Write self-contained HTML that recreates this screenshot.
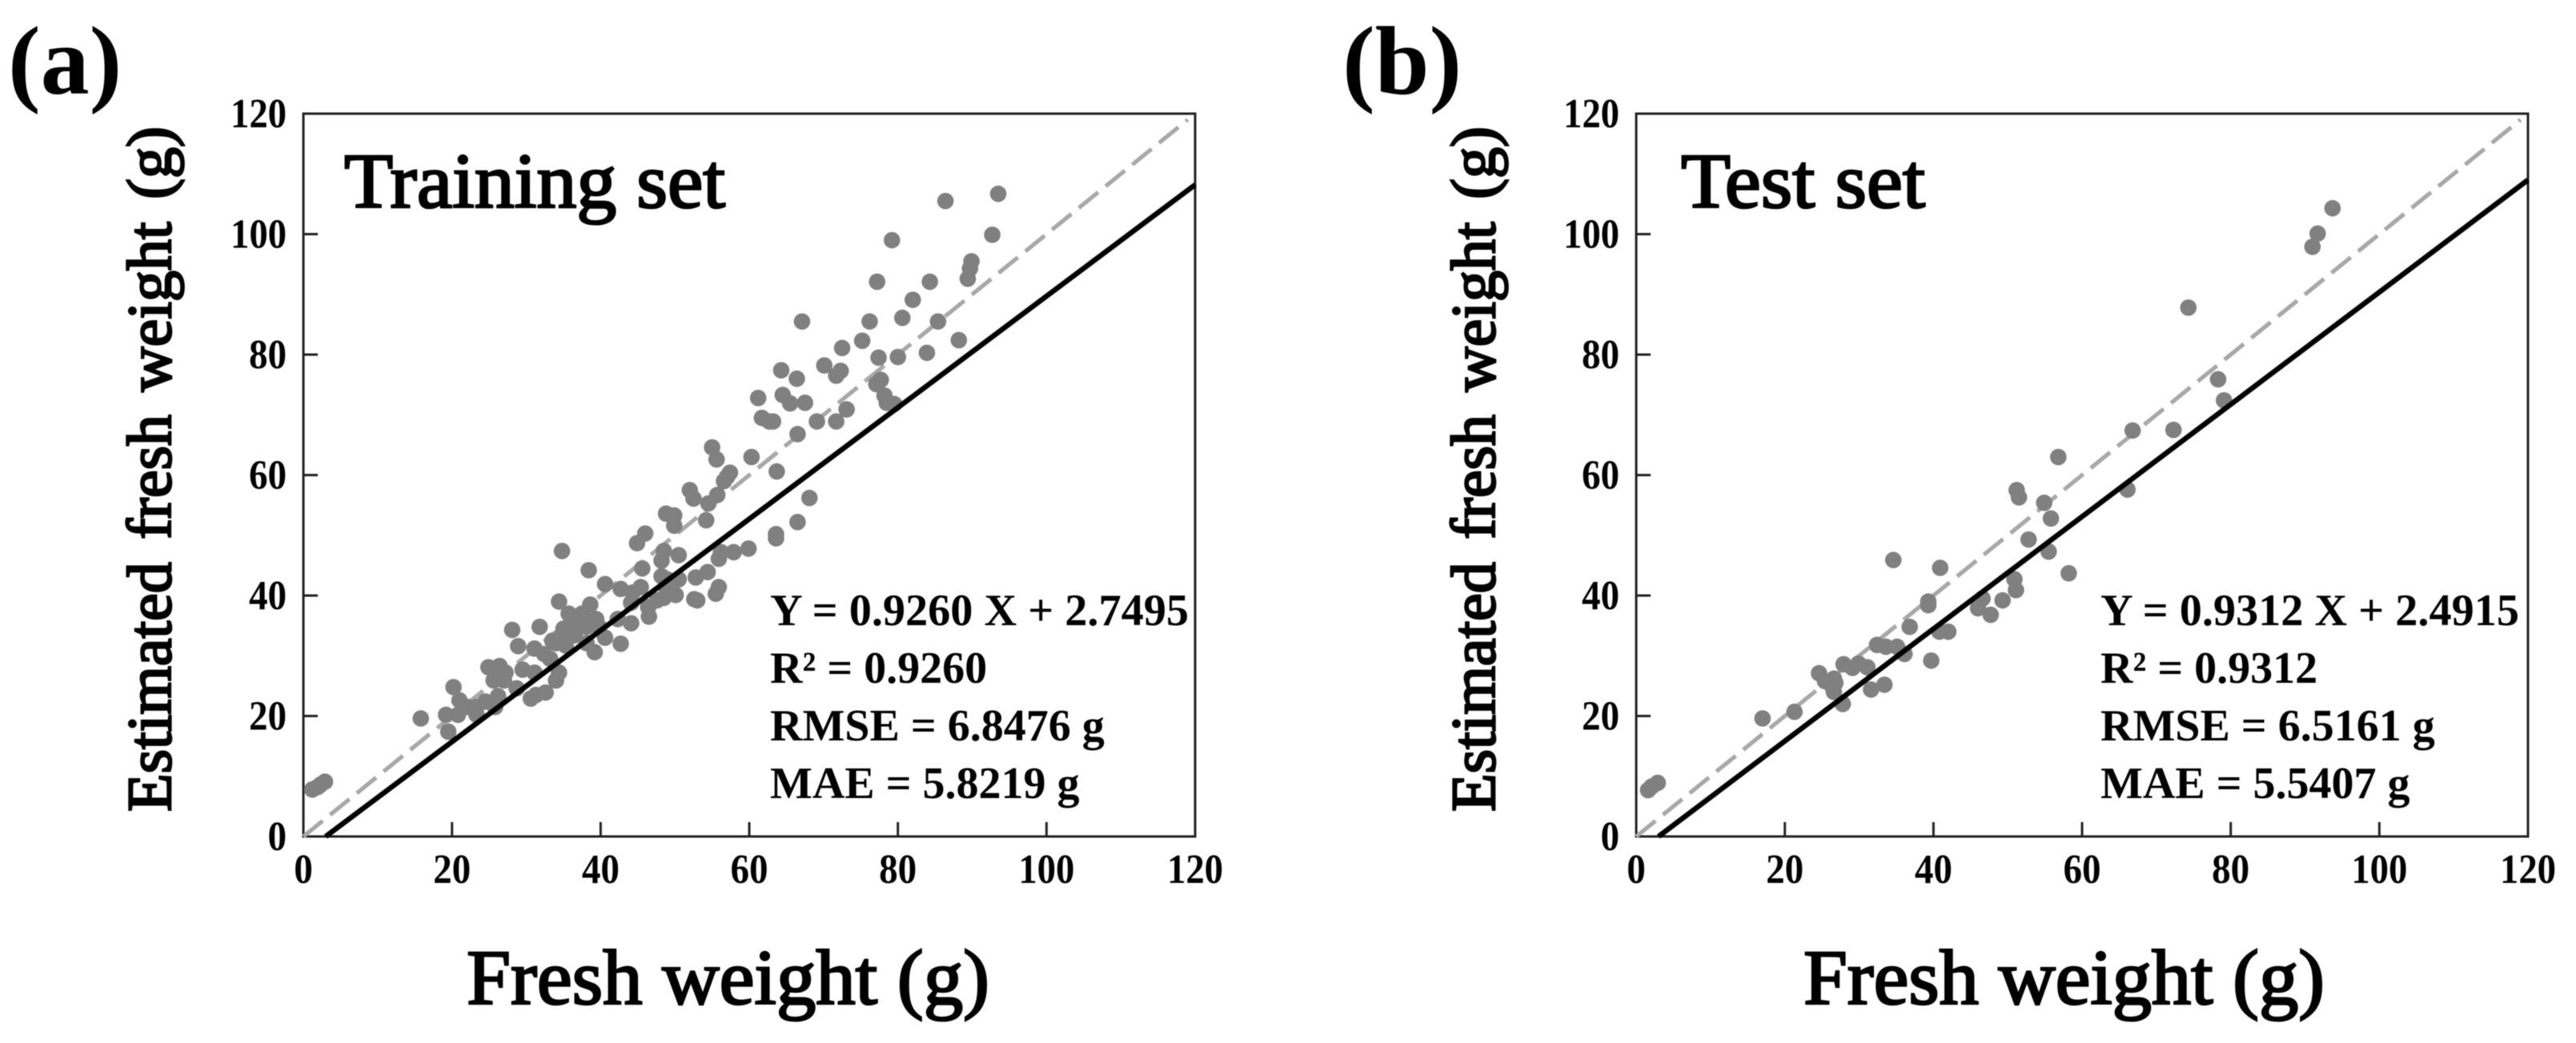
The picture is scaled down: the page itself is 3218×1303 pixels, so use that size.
<!DOCTYPE html>
<html lang="en">
<head>
<meta charset="utf-8">
<title>Estimated vs. measured fresh weight</title>
<style>
html,body{margin:0;padding:0;background:#fff;width:3218px;height:1303px;overflow:hidden}
svg{display:block;filter:blur(.6px)}
text{font-family:"Liberation Serif",serif;fill:#000}
.b{font-weight:bold}
.h{stroke:#000;stroke-width:2.6px;font-weight:normal}
</style>
</head>
<body>
<svg id="figure" xmlns="http://www.w3.org/2000/svg" width="3218" height="1303" viewBox="0 0 3218 1303">
  <rect x="0" y="0" width="3218" height="1303" fill="#fff"/>
  <g id="panel-a">
    <text class="b" x="10" y="117" font-size="122">(a)</text>
    <text class="h" x="430" y="259" font-size="97" textLength="476" lengthAdjust="spacingAndGlyphs">Training set</text>
    <text class="h" transform="translate(213,1014) rotate(-90)" font-size="78" word-spacing="9" textLength="856" lengthAdjust="spacingAndGlyphs">Estimated fresh weight (g)</text>
    <text class="h" x="583" y="1254" font-size="98" textLength="653" lengthAdjust="spacingAndGlyphs">Fresh weight (g)</text>
    <g font-size="56" class="b">
      <text class="b" x="962" y="781" textLength="523" lengthAdjust="spacingAndGlyphs">Y = 0.9260 X + 2.7495</text>
      <text class="b" x="962" y="853">R² = 0.9260</text>
      <text class="b" x="962" y="925">RMSE = 6.8476 g</text>
      <text class="b" x="962" y="997">MAE = 5.8219 g</text>
    </g>
  </g>
  <g id="panel-b">
    <text class="b" x="1677" y="117" font-size="122">(b)</text>
    <text class="h" x="2100" y="259" font-size="97" textLength="305" lengthAdjust="spacingAndGlyphs">Test set</text>
    <text class="h" transform="translate(1867,1014) rotate(-90)" font-size="78" word-spacing="9" textLength="856" lengthAdjust="spacingAndGlyphs">Estimated fresh weight (g)</text>
    <text class="h" x="2253" y="1254" font-size="98" textLength="651" lengthAdjust="spacingAndGlyphs">Fresh weight (g)</text>
    <g font-size="56" class="b">
      <text class="b" x="2624" y="781" textLength="523" lengthAdjust="spacingAndGlyphs">Y = 0.9312 X + 2.4915</text>
      <text class="b" x="2624" y="853">R² = 0.9312</text>
      <text class="b" x="2624" y="925">RMSE = 6.5161 g</text>
      <text class="b" x="2624" y="997">MAE = 5.5407 g</text>
    </g>
  </g>
</svg>
<script>
const tickValues = [0, 20, 40, 60, 80, 100, 120];
const tickLabels = ["0", "20", "40", "60", "80", "100", "120"];

const identityX = [0, 119];
const identityY = [0, 119];

const trainFitX = [3, 120];
const trainFitY = [0, 108.2];
const testFitX = [3, 120];
const testFitY = [0, 109];

const trainX = [93.5,86.4,92.7,79.2,89.9,89.7,89.4,77.2,84.3,82,80.6,76.2,85.4,67.1,75.2,88.2,72.5,83.9,80,77.4,70.1,64.3,72.3,71.7,66.4,77.7,77.1,78.2,78.5,79.5,61.2,64.5,65.5,67.5,73.1,61.7,63.2,62.7,69.1,71.7,66.5,55,55.6,60.3,63.7,57.4,57,56.6,52,52.5,55.7,54.5,54.2,68.1,66.5,63.6,63.6,48.8,49.9,49.9,46,44.9,34.8,48.5,48.2,50.5,56.2,55.9,57.9,59.9,45.6,38.4,40.6,42.7,45.4,44.3,48.2,48.9,50.5,54.4,52.8,55.9,55.5,52.6,53,50.1,48.5,47.6,48.9,46.4,46.5,44.1,44.1,42.3,34.4,38.6,35.7,37.5,39.4,36.1,38.1,34.8,36.5,34,35.3,39.8,40.6,42.7,39.2,38.1,37,36,35,33.5,37.5,31.8,28.1,28.9,31.1,32.4,33.2,29.5,31.1,34.4,34,32.6,31.3,30.6,24.9,26.4,27.2,25.6,27,28.7,20.2,21,19.2,20.8,22.1,23.3,24.5,26.2,25.8,23.3,15.8,19.5,1.9,1.2,2.3,2.9];
const trainY = [106.7,105.5,99.9,99,95.5,94.3,92.6,92.1,92.1,89.1,86.1,85.5,85.5,85.5,82.3,82.4,81.1,80.3,79.6,79.5,78.2,77.4,77.3,76.5,76,75.8,75.1,73.2,72,71.8,72.8,73.3,71.9,72,70.9,69.5,68.9,68.9,68.9,68.9,66.8,64.6,62.6,63,60.6,60.4,59.7,59,57.5,56.1,56.7,55.3,52.5,56.2,52.2,50.2,49.5,53.6,53.3,51.6,50.3,48.7,47.4,47.4,45.8,46.7,47.2,46.1,47.2,47.8,44.5,44.2,41.9,41.1,41.4,40.5,43.2,42.7,42.7,43.9,43,41.4,40.3,39.4,39.2,40.1,39.6,39.2,41,38.1,36.5,38.8,35.4,36.1,39,38.5,37,37,36.1,34.8,34.8,33.4,33.4,32.1,31.7,34.8,33,32,30.6,32.1,35.5,35.5,34.5,32.5,36.5,34.8,34.3,31.6,31.2,30.3,29.5,27.7,27.2,27.2,25.9,23.9,23.5,22.9,28.1,28.3,27.2,25.9,25.9,24.6,24.8,22.6,20.2,20.2,21.5,21.5,22.4,23.3,21.5,20.2,19.6,17.4,8.2,7.8,8.6,9.1];

const testX = [93.7,91.7,91,74.3,78.3,79.1,66.8,72.3,56.8,66.1,51.2,51.5,54.9,55.8,52.8,55.5,58.2,34.6,40.9,50.9,51.1,49.3,46.6,46,47.7,39.3,39.3,36.8,40.8,42,32.4,33.6,35.1,36.1,39.7,33.4,31.6,27.9,29.1,29.9,31.1,24.6,25.4,26.6,26.8,26.6,26.4,27.8,21.3,17,1.6,2.1,2.9];
const testY = [104.3,100.1,97.9,87.8,75.9,72.4,67.4,67.5,63,57.6,57.5,56.3,55.4,52.8,49.3,47.3,43.7,45.9,44.6,42.7,40.9,39.2,39.5,37.9,36.8,39,38.4,34.8,34,34,31.8,31.5,31.5,30.3,29.2,25.2,24.4,28.6,28,28.7,28.1,27.1,25.8,26.2,25.5,24,24.9,22,20.7,19.6,7.7,8.3,8.9];

const NS = "http://www.w3.org/2000/svg";
const axisMax = 120;

function makeScale(p0, p1) {
  return function (v) { return p0 + (v / axisMax) * (p1 - p0); };
}

function svgEl(tag, parent) {
  const el = document.createElementNS(NS, tag);
  parent.appendChild(el);
  return el;
}

function drawPanel(id, prefix, left, right, xs, ys, fitX, fitY) {
  const top = 142, bottom = 1045;
  const sx = makeScale(left, right);
  const sy = makeScale(bottom, top);
  const host = document.getElementById(id);

  const plot = svgEl("g", host);
  
  
  host.insertBefore(plot, host.firstChild);

  const frame = svgEl("rect", plot);
  
  
  frame.setAttribute("x", left);
  frame.setAttribute("y", top);
  frame.setAttribute("width", right - left);
  frame.setAttribute("height", bottom - top);
  frame.setAttribute("fill", "none");
  frame.setAttribute("stroke", "#222");
  frame.setAttribute("stroke-width", "3");

  const identity = svgEl("line", plot);
  
  
  identity.setAttribute("x1", sx(identityX[0]));
  identity.setAttribute("y1", sy(identityY[0]));
  identity.setAttribute("x2", sx(identityX[1]));
  identity.setAttribute("y2", sy(identityY[1]));
  identity.setAttribute("stroke", "#a8a8a8");
  identity.setAttribute("stroke-width", "5.2");
  identity.setAttribute("stroke-dasharray", "31 12");

  xs.forEach(function (x, i) {
    const dot = svgEl("circle", plot);
    
    
    dot.setAttribute("cx", sx(x));
    dot.setAttribute("cy", sy(ys[i]));
    dot.setAttribute("r", "10.3");
    dot.setAttribute("fill", "#808080");
  });

  const fit = svgEl("line", plot);
  
  
  fit.setAttribute("x1", sx(fitX[0]));
  fit.setAttribute("y1", sy(fitY[0]));
  fit.setAttribute("x2", sx(fitX[1]));
  fit.setAttribute("y2", sy(fitY[1]));
  fit.setAttribute("stroke", "#000");
  fit.setAttribute("stroke-width", "6.5");

  const widths = { 1: 23.5, 2: 47, 3: 70 };

  tickValues.forEach(function (v, i) {
    const label = tickLabels[i];
    if (v > 0 && v < axisMax) {
      const xt = svgEl("line", plot);
      
      
      xt.setAttribute("x1", sx(v));
      xt.setAttribute("x2", sx(v));
      xt.setAttribute("y1", bottom);
      xt.setAttribute("y2", bottom - 18);
      xt.setAttribute("stroke", "#222");
      xt.setAttribute("stroke-width", "3");

      const yt = svgEl("line", plot);
      
      
      yt.setAttribute("x1", left);
      yt.setAttribute("x2", left + 18);
      yt.setAttribute("y1", sy(v));
      yt.setAttribute("y2", sy(v));
      yt.setAttribute("stroke", "#222");
      yt.setAttribute("stroke-width", "3");
    }

    const xl = svgEl("text", plot);
    
    
    xl.setAttribute("class", "b");
    xl.setAttribute("x", sx(v));
    xl.setAttribute("y", 1103);
    xl.setAttribute("font-size", "52");
    xl.setAttribute("text-anchor", "middle");
    xl.setAttribute("textLength", widths[label.length]);
    xl.setAttribute("lengthAdjust", "spacingAndGlyphs");
    xl.textContent = label;

    const yl = svgEl("text", plot);
    
    
    yl.setAttribute("class", "b");
    yl.setAttribute("x", left - 21);
    yl.setAttribute("y", sy(v) + 17);
    yl.setAttribute("font-size", "52");
    yl.setAttribute("text-anchor", "end");
    yl.setAttribute("textLength", widths[label.length]);
    yl.setAttribute("lengthAdjust", "spacingAndGlyphs");
    yl.textContent = label;
  });
}

drawPanel("panel-a", "train", 379, 1493, trainX, trainY, trainFitX, trainFitY);
drawPanel("panel-b", "test", 2044, 3158, testX, testY, testFitX, testFitY);
</script>
</body>
</html>
